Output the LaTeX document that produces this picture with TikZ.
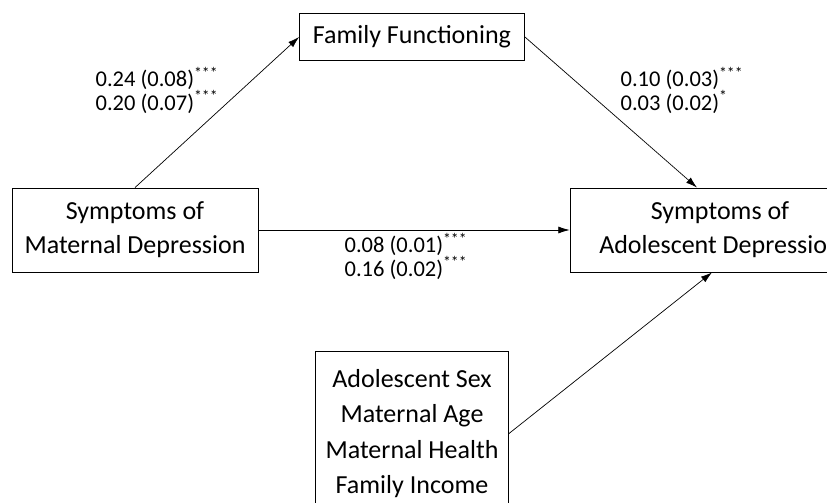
\documentclass[tikz,border=0pt]{standalone}
\usepackage{fontspec}
\setmainfont{Carlito}
\usetikzlibrary{arrows.meta,positioning}

\begin{document}
\begin{tikzpicture}
[
  x=0.025cm,
  y=-0.025cm,
  var/.style={draw, line width=0.6pt, align=center, font=\fontsize{18.5}{24}\selectfont, inner sep=0pt},
  coef/.style={align=left, font=\fontsize{16}{16.5}\selectfont, inner sep=0pt},
  path/.style={-{Latex[length=8pt,width=5pt]}, line width=0.5pt, shorten >=0pt},
]
 \useasboundingbox (0,0) rectangle (827,503);

 % variables
 \node[var,minimum width=225*0.025cm,minimum height=47*0.025cm] (ff) at (412,37) {Family Functioning};
 \node[var,minimum width=246*0.025cm,minimum height=84*0.025cm] (md) at (135,230) {Symptoms of\\Maternal Depression};
 \node[var,minimum width=300*0.025cm,minimum height=84*0.025cm] (ad) at (720,230) {Symptoms of\\Adolescent Depression};
 \node[var,anchor=north,minimum width=193*0.025cm,inner ysep=13pt,
       font=\fontsize{18.5}{25}\selectfont] (cc) at (412,351)
   {Adolescent Sex\\Maternal Age\\Maternal Health\\Family Income};

 % coefficients
 \node[coef] (a) at (157,90) {0.24 (0.08)\textsuperscript{***}\\0.20 (0.07)\textsuperscript{***}};
 \node[coef] (b) at (682,90) {0.10 (0.03)\textsuperscript{***}\\0.03 (0.02)\textsuperscript{*}};
 \node[coef] (c) at (406,256) {0.08 (0.01)\textsuperscript{***}\\0.16 (0.02)\textsuperscript{***}};

 \path[path]
   (md.north) edge (ff.west)
   (ff.east) edge ([xshift=-23*0.025cm]ad.north)
   (md.east) edge (ad.west)
   (cc.east) edge ([xshift=-8*0.025cm]ad.south);
\end{tikzpicture}
\end{document}
